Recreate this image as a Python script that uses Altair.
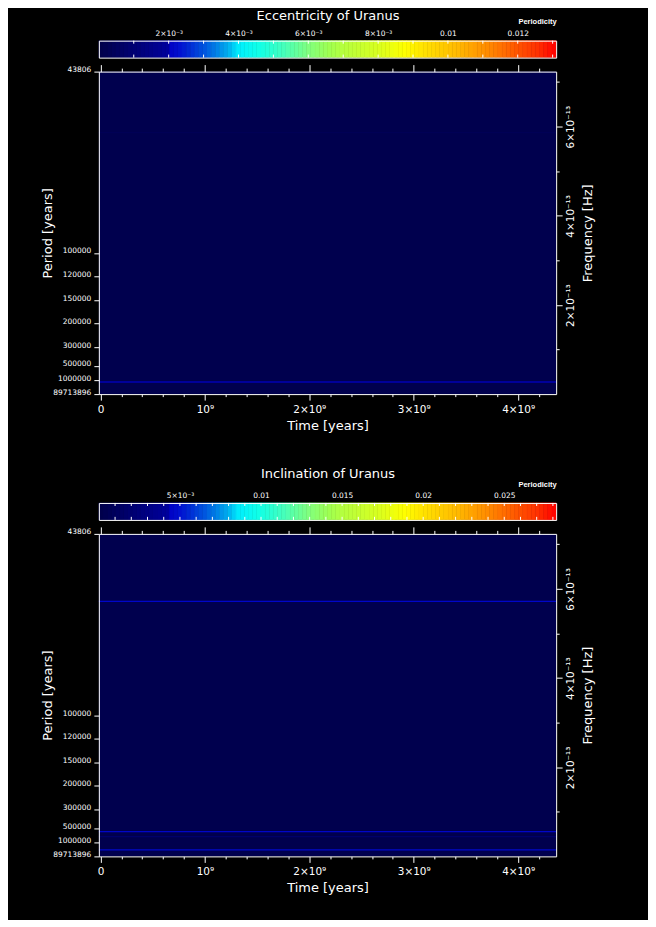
import json
import altair as alt
import pandas as pd

FONT = "DejaVu Sans"
WHITE = "#ffffff"
YEAR_S = 365.25 * 86400.0

W = 458          # plot width
H_PLOT = 323     # heatmap height
H_CB = 17        # colour bar height
GAP = 14
SPACER_H = 81
FREQ_BIN = 3.0e-15
CB_BINS = 110
CB_TICK = 0.18

# ---------------- data ----------------
time_domain = [-1.6e7, 4.364e9]
time_major = [0.0, 1e9, 2e9, 3e9, 4e9]
time_major_labels = ["0", "10⁹", "2×10⁹", "3×10⁹", "4×10⁹"]
time_all_ticks = [0.0, 2e8, 4e8, 6e8, 8e8, 1e9, 1.2e9, 1.4e9, 1.6e9, 1.8e9, 2e9,
                  2.2e9, 2.4e9, 2.6e9, 2.8e9, 3e9, 3.2e9, 3.4e9, 3.6e9, 3.8e9, 4e9, 4.2e9]

period_ticks = [43806, 100000, 120000, 150000, 200000, 300000, 500000, 1000000, 89713896]
period_labels = [str(p) for p in period_ticks]
freq_major = [2e-13, 4e-13, 6e-13]
freq_major_labels = ["2×10⁻¹³", "4×10⁻¹³", "6×10⁻¹³"]
freq_all_ticks = [1e-13, 2e-13, 3e-13, 4e-13, 5e-13, 6e-13, 7e-13]

# colour table (fraction of full scale -> colour)
stop_fracs = [0.0, 0.15, 0.153, 0.178, 0.233, 0.284, 0.306, 0.349, 0.40, 0.458,
              0.506, 0.532, 0.611, 0.669, 0.713, 0.786, 0.844, 0.902, 0.96, 1.0]
stop_colors = ["#00004a", "#00009c", "#0000c4", "#0010d0", "#0058e0", "#00b0f0",
               "#00eefe", "#10ffe8", "#40ffc0", "#80ff80", "#a0ff50", "#b4ff40",
               "#d8ff20", "#ffff00", "#ffe000", "#ffb800", "#ff9000", "#ff6000",
               "#ff3000", "#ff0000"]

ecc_title = "Eccentricity of Uranus"
ecc_cmax = 0.0131
ecc_label_values = [0.002, 0.004, 0.006, 0.008, 0.01, 0.012]
ecc_label_texts = ["2×10⁻³", "4×10⁻³", "6×10⁻³", "8×10⁻³", "0.01", "0.012"]
ecc_tick_values = [0.001, 0.002, 0.003, 0.004, 0.005, 0.006, 0.007, 0.008, 0.009,
                   0.010, 0.011, 0.012, 0.013]
ecc_background = 0.0001
ecc_band_freq = [2.76e-14, 5.866e-13]
ecc_band_value = [0.00199, 0.00026]

inc_title = "Inclination of Uranus"
inc_cmax = 0.0282
inc_label_values = [0.005, 0.01, 0.015, 0.02, 0.025]
inc_label_texts = ["5×10⁻³", "0.01", "0.015", "0.02", "0.025"]
inc_tick_values = [0.001, 0.002, 0.003, 0.004, 0.005, 0.006, 0.007, 0.008, 0.009, 0.010,
                   0.011, 0.012, 0.013, 0.014, 0.015, 0.016, 0.017, 0.018, 0.019, 0.020,
                   0.021, 0.022, 0.023, 0.024, 0.025, 0.026, 0.027, 0.028]
inc_background = 0.0002
inc_band_freq = [5.72e-13, 5.59e-14, 4.47e-14, 1.5e-14]
inc_band_value = [0.0046, 0.0046, 0.0017, 0.0047]

freq_lo = 1.0 / (period_ticks[-1] * YEAR_S)
freq_hi = 1.0 / (period_ticks[0] * YEAR_S)
period_freqs = [1.0 / (p * YEAR_S) for p in period_ticks]


# ---------------- helpers ----------------
def label_expr(values, labels):
    v = json.dumps(values)
    lab = json.dumps(labels, ensure_ascii=False)
    return f"indexof({v}, datum.value) < 0 ? '' : {lab}[indexof({v}, datum.value)]"


def major_test(values):
    return f"indexof({json.dumps(values)}, datum.value) >= 0"


def axis(**kw):
    base = dict(grid=False, labelColor=WHITE, tickColor=WHITE, domainColor=WHITE,
                titleColor=WHITE, labelFont=FONT, titleFont=FONT, titleFontWeight="normal",
                tickWidth=1, domainWidth=1, zindex=1, labelFlush=False, labelOverlap=False)
    base.update(kw)
    return alt.Axis(**base)


def color_scale(cmax):
    return alt.Scale(domain=[f * cmax for f in stop_fracs], range=stop_colors,
                     interpolate="rgb", nice=False, zero=False)


def colorbar(cmax, label_values, label_texts, tick_values, title, title_y):
    bins = pd.DataFrame({
        "lo": [cmax * i / CB_BINS for i in range(CB_BINS)],
        "hi": [cmax * (i + 1) / CB_BINS for i in range(CB_BINS)],
        "mid": [cmax * (i + 0.5) / CB_BINS for i in range(CB_BINS)],
        "y0": 0.0, "y1": 1.0})
    top_ticks = pd.DataFrame({"v": tick_values, "ya": 1.0, "yb": 1.0 - CB_TICK})
    bot_ticks = pd.DataFrame({"v": tick_values, "ya": 0.0, "yb": CB_TICK})
    xs = alt.Scale(domain=[0, cmax], nice=False, zero=False)
    ys = alt.Scale(domain=[0, 1], nice=False, zero=False)
    cs = color_scale(cmax)
    blank_y = dict(labels=False, ticks=False, domain=True, title="")

    bar = alt.Chart(bins).mark_rect(strokeWidth=0.6).encode(
        x=alt.X("lo:Q", scale=xs, axis=axis(
            orient="top", values=label_values, ticks=False, tickSize=0, domain=True,
            labelExpr=label_expr(label_values, label_texts), labelFontSize=7.5,
            labelPadding=3, title="Periodicity", titleFont="Liberation Sans",
            titleFontSize=7.5, titleFontWeight="bold", titleX=W, titleY=-18.8,
            titleAlign="right", titleBaseline="middle", titleAngle=0)),
        x2="hi:Q",
        y=alt.Y("y0:Q", scale=ys, axis=axis(orient="left", **blank_y)),
        y2="y1:Q",
        color=alt.Color("mid:Q", scale=cs, legend=None),
        stroke=alt.Color("mid:Q", scale=cs, legend=None),
    )
    tt = alt.Chart(top_ticks).mark_rule(color=WHITE, strokeWidth=1).encode(
        x=alt.X("v:Q", scale=xs, axis=axis(
            orient="top", labels=False, ticks=False, domain=False, title=title,
            titleFontSize=13, titleX=W / 2, titleY=title_y, titleAlign="center",
            titleBaseline="middle", titleAngle=0)),
        y=alt.Y("ya:Q", scale=ys, axis=axis(orient="right", **blank_y)),
        y2="yb:Q",
    )
    bt = alt.Chart(bot_ticks).mark_rule(color=WHITE, strokeWidth=1).encode(
        x=alt.X("v:Q", scale=xs, axis=axis(orient="bottom", labels=False, ticks=False,
                                           domain=True, title="")),
        y=alt.Y("ya:Q", scale=ys, axis=None),
        y2="yb:Q",
    )
    return alt.layer(bar, tt, bt).resolve_axis(x="independent", y="independent").properties(
        width=W, height=H_CB)


def heatmap(band_freq, band_value, bg_value, cmax):
    rows = [dict(t0=time_domain[0], t1=time_domain[1], f0=freq_lo, f1=freq_hi, val=bg_value)]
    for f, v in zip(band_freq, band_value):
        rows.append(dict(t0=time_domain[0], t1=time_domain[1],
                         f0=f - FREQ_BIN / 2, f1=f + FREQ_BIN / 2, val=v))
    df = pd.DataFrame(rows)
    xs = alt.Scale(domain=time_domain, nice=False, zero=False)
    ys = alt.Scale(domain=[freq_lo, freq_hi], nice=False, zero=False)
    tmaj = major_test(time_major)
    fmaj = major_test(freq_major)

    main = alt.Chart(df).mark_rect().encode(
        x=alt.X("t0:Q", scale=xs, axis=axis(
            orient="bottom", values=time_all_ticks, domain=True,
            tickSize={"condition": {"test": tmaj, "value": 6}, "value": 2.5},
            labelExpr=label_expr(time_major, time_major_labels), labelFontSize=10.5,
            labelPadding=4, title="Time [years]", titleFontSize=13, titleX=W / 2,
            titleY=31.5, titleAlign="center", titleBaseline="middle", titleAngle=0)),
        x2="t1:Q",
        y=alt.Y("f0:Q", scale=ys, axis=axis(
            orient="left", values=period_freqs, domain=True, tickSize=5,
            labelExpr=label_expr(period_freqs, period_labels), labelFontSize=7.5,
            labelPadding=3, labelOffset=-2, labelAlign="right", labelBaseline="middle",
            title="Period [years]", titleFontSize=13, titleX=-51.6, titleY=H_PLOT / 2,
            titleAngle=270, titleAlign="center", titleBaseline="middle")),
        y2="f1:Q",
        color=alt.Color("val:Q", scale=color_scale(cmax), legend=None),
    )
    ghost = alt.Chart(df).mark_rect(opacity=0).encode(
        x=alt.X("t0:Q", scale=xs, axis=axis(
            orient="top", values=time_all_ticks, domain=True, labels=False,
            tickSize={"condition": {"test": tmaj, "value": 7}, "value": 3.5}, title="")),
        x2="t1:Q",
        y=alt.Y("f0:Q", scale=ys, axis=axis(
            orient="right", values=freq_all_ticks, domain=True,
            tickSize={"condition": {"test": fmaj, "value": 6}, "value": 3},
            labelExpr=label_expr(freq_major, freq_major_labels), labelFontSize=10.5,
            labelPadding=3, labelAngle=270, labelAlign="center", labelBaseline="top",
            title="Frequency [Hz]", titleFontSize=13, titleX=31.8, titleY=H_PLOT / 2,
            titleAngle=270, titleAlign="center", titleBaseline="middle")),
        y2="f1:Q",
    )
    return alt.layer(main, ghost).resolve_axis(x="independent", y="independent").properties(
        width=W, height=H_PLOT)


cb1 = colorbar(ecc_cmax, ecc_label_values, ecc_label_texts, ecc_tick_values, ecc_title, -25)
hm1 = heatmap(ecc_band_freq, ecc_band_value, ecc_background, ecc_cmax)
cb2 = colorbar(inc_cmax, inc_label_values, inc_label_texts, inc_tick_values, inc_title, -29.5)
hm2 = heatmap(inc_band_freq, inc_band_value, inc_background, inc_cmax)
spacer = alt.Chart(pd.DataFrame({"s": []})).mark_point().properties(width=W, height=SPACER_H)

chart = alt.vconcat(cb1, hm1, spacer, cb2, hm2, spacing=GAP, bounds="flush").resolve_scale(
    x="independent", y="independent", color="independent", stroke="independent"
).properties(
    padding={"left": 32, "top": 0, "right": 52, "bottom": 24}
).configure(background="black").configure_view(stroke="transparent")

chart.save("out.html", embed_options={"renderer": "svg", "actions": False})
